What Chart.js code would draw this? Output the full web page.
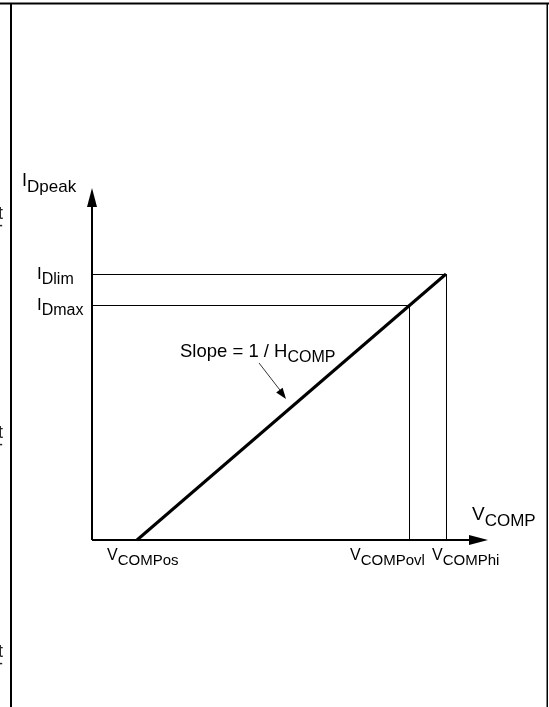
<!DOCTYPE html>
<html>
<head>
<meta charset="utf-8">
<script src="https://cdn.jsdelivr.net/npm/chart.js@4/dist/chart.umd.min.js"></script>
<style>
html,body{margin:0;padding:0;background:#fff;}
#wrap{position:relative;width:549px;height:707px;}
</style>
</head>
<body>
<div id="wrap"><canvas id="c"></canvas></div>
<script>
// ---- data (diagram units: origin at axis crossing) ----
const xTickNames = ['os', 'ovl', 'hi'];          // V_COMP subscripts
const xTickValues = [45, 317, 354];              // V_COMPos, V_COMPovl, V_COMPhi
const yTickNames = ['lim', 'max'];               // I_D subscripts
const yTickValues = [266, 235];                  // I_Dlim, I_Dmax
const xAxisEnd = 396;                            // x-axis arrow tip
const yAxisEnd = 352;                            // y-axis arrow tip
const slopeX = [45, 354];                        // slope line ends (x)
const slopeY = [0, 266];                         // slope line ends (y)

const xMin = -92, xMax = 457, yMin = -167, yMax = 540;

const black = '#000';
const datasets = [
  {data: [{x: 0, y: 0}, {x: 0, y: yAxisEnd - 8}], borderWidth: 2},
  {data: [{x: 0, y: 0}, {x: xAxisEnd - 8, y: 0}], borderWidth: 2},
  {data: [{x: 0, y: yTickValues[0]}, {x: xTickValues[2], y: yTickValues[0]}, {x: xTickValues[2], y: 0}], borderWidth: 1, thin: true},
  {data: [{x: 0, y: yTickValues[1]}, {x: xTickValues[1], y: yTickValues[1]}, {x: xTickValues[1], y: 0}], borderWidth: 1, thin: true},
  {data: [{x: slopeX[0], y: slopeY[0]}, {x: slopeX[1], y: slopeY[1]}], borderWidth: 3}
].map(d => Object.assign({borderColor: black, pointRadius: 0, showLine: true, fill: false, tension: 0}, d));

function subText(ctx, main, sub, x, y, mainSize, subSize, drop) {
  ctx.font = mainSize + 'px "Liberation Sans", Arial, sans-serif';
  ctx.fillText(main, x, y);
  const w = ctx.measureText(main).width;
  ctx.font = subSize + 'px "Liberation Sans", Arial, sans-serif';
  ctx.fillText(sub, x + w, y + drop);
}

function arrowHead(ctx, tx, ty, angle, len, half) {
  ctx.save();
  ctx.translate(tx, ty);
  ctx.rotate(angle);
  ctx.beginPath();
  ctx.moveTo(0, 0);
  ctx.lineTo(-len, -half);
  ctx.lineTo(-len, half);
  ctx.closePath();
  ctx.fill();
  ctx.restore();
}

// crisp 1px guide lines: shift them onto pixel centres
const crisp = {
  id: 'crisp',
  beforeDatasetDraw(chart, args) {
    if (chart.data.datasets[args.index].thin) {
      chart.ctx.save();
      chart.ctx.translate(0.5, 0.5);
    }
  },
  afterDatasetDraw(chart, args) {
    if (chart.data.datasets[args.index].thin) chart.ctx.restore();
  }
};

const decor = {
  id: 'decor',
  afterDraw(chart) {
    const ctx = chart.ctx;
    const xs = chart.scales.x, ys = chart.scales.y;
    const px = v => xs.getPixelForValue(v);
    const py = v => ys.getPixelForValue(v);
    ctx.save();
    ctx.fillStyle = black;
    ctx.strokeStyle = black;
    // frame
    ctx.fillRect(0, 2.5, 549, 2);
    ctx.fillRect(10, 3, 2, 704);
    ctx.fillRect(546.5, 3, 1.5, 704);
    // axis arrow heads
    arrowHead(ctx, px(0), py(yAxisEnd), -Math.PI / 2, 19, 5);
    arrowHead(ctx, px(xAxisEnd), py(0), 0, 19, 5);
    ctx.textBaseline = 'alphabetic';
    ctx.textAlign = 'left';
    // axis titles
    subText(ctx, 'I', 'Dpeak', 22, 186, 18, 17, 6);
    subText(ctx, 'V', 'COMP', 472, 520, 19, 17, 6);
    // y ticks
    for (let i = 0; i < yTickValues.length; i++) {
      subText(ctx, 'I', 'D' + yTickNames[i], 37, py(yTickValues[i]) + 5, 17, 16, 5);
    }
    // x ticks
    const xTickLeft = [107, 350, 432];
    for (let i = 0; i < xTickValues.length; i++) {
      subText(ctx, 'V', 'COMP' + xTickNames[i], xTickLeft[i], 560, 16, 15, 5);
    }
    // slope annotation
    subText(ctx, 'Slope = 1 / H', 'COMP', 180, 357, 18.5, 16, 5);
    ctx.lineWidth = 0.8;
    ctx.beginPath();
    ctx.moveTo(259, 363);
    ctx.lineTo(283, 394);
    ctx.stroke();
    arrowHead(ctx, 286, 399, Math.atan2(36, 27), 11, 4);
    // clipped text fragments at the left edge
    ctx.font = '18px "Liberation Sans", Arial, sans-serif';
    ctx.fillStyle = '#222';
    [219, 438, 657].forEach(b => {
      ctx.fillText('t', -2, b);
      ctx.fillText('-', -3, b + 12);
    });
    ctx.restore();
  }
};

new Chart(document.getElementById('c'), {
  type: 'scatter',
  data: {datasets},
  options: {
    responsive: true,
    maintainAspectRatio: false,
    animation: false,
    events: [],
    layout: {padding: 0},
    plugins: {legend: {display: false}, tooltip: {enabled: false}},
    scales: {
      x: {type: 'linear', min: xMin, max: xMax, display: false},
      y: {type: 'linear', min: yMin, max: yMax, display: false}
    }
  },
  plugins: [crisp, decor]
});
</script>
</body>
</html>
